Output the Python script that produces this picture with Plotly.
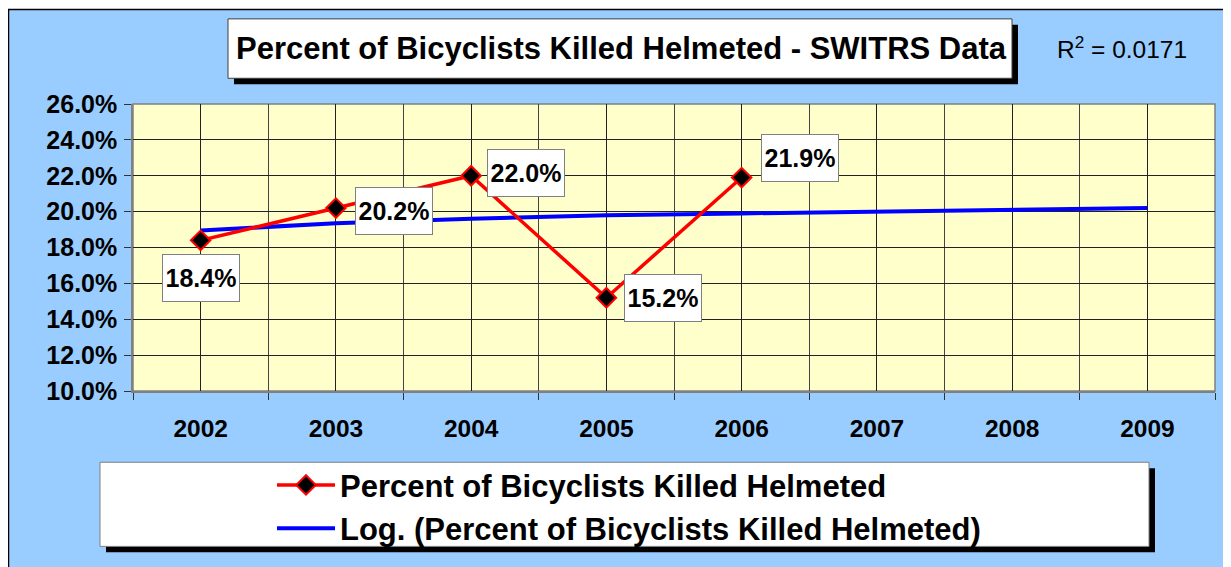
import plotly.graph_objects as go

# data
years = [2002, 2003, 2004, 2005, 2006, 2007, 2008, 2009]
data_years = [2002, 2003, 2004, 2005, 2006]
pct_helmeted = [18.4, 20.2, 22.0, 15.2, 21.9]
trend_pct = [18.95, 19.35, 19.6, 19.8, 19.9, 20.0, 20.1, 20.2]
series_name = "Percent of Bicyclists Killed Helmeted"
trend_name = "Log. (Percent of Bicyclists Killed Helmeted)"
title_text = "Percent of Bicyclists Killed Helmeted - SWITRS Data"
r2_text = "R<sup>2</sup> = 0.0171"

# label offsets (pixels) from each point
label_dx = [0, 58, 55, 57, 58]
label_dy = [-38, -3, 3, 0, 20]

# the page body adds an 8px margin, so the figure is a bit smaller
OFF = 8
W, H = 1231 - OFF, 567 - OFF
ML, MR, MT, MB = 125, 16, 96, 173
PW = W - ML - MR
PH = H - MT - MB


# screen pixel -> paper coordinate
def px(x):
    return (x - OFF - ML) / PW


def py(y):
    return (H - MB - (y - OFF)) / PH


FONT = "Liberation Sans, Arial, sans-serif"

fig = go.Figure()

fig.add_trace(go.Scatter(
    x=years, y=trend_pct, name=trend_name, mode="lines",
    line=dict(color="#0000FF", width=4), legendgroup="b", legendrank=2,
))
fig.add_trace(go.Scatter(
    x=data_years, y=pct_helmeted, name=series_name, mode="lines+markers",
    line=dict(color="#FF0000", width=3.5),
    marker=dict(symbol="diamond", size=15, color="black",
                line=dict(color="#FF0000", width=2)),
    legendgroup="a", legendrank=1,
))

shapes = [
    # outer chart area
    dict(type="rect", xref="paper", yref="paper", x0=px(8.5), x1=px(1245),
         y0=py(580), y1=py(8.5), fillcolor="#99CCFF",
         line=dict(color="black", width=1.5), layer="below"),
    # plot area
    dict(type="rect", xref="paper", yref="paper", x0=0, x1=1, y0=0, y1=1,
         fillcolor="#FFFFCC", line=dict(color="#808080", width=1.5), layer="below"),
    # title box + shadow
    dict(type="rect", xref="paper", yref="paper", x0=px(234), x1=px(1018),
         y0=py(84), y1=py(24), fillcolor="black", line=dict(width=0), layer="below"),
    dict(type="rect", xref="paper", yref="paper", x0=px(228), x1=px(1012),
         y0=py(78), y1=py(18), fillcolor="white",
         line=dict(color="#404040", width=1), layer="below"),
    # legend box + shadow
    dict(type="rect", xref="paper", yref="paper", x0=px(106), x1=px(1155),
         y0=py(557), y1=py(472), fillcolor="black", line=dict(width=0), layer="below"),
    dict(type="rect", xref="paper", yref="paper", x0=px(100), x1=px(1149),
         y0=py(551), y1=py(466), fillcolor="white",
         line=dict(color="#808080", width=1), layer="below"),
]

annotations = [
    dict(text="<b>" + title_text + "</b>", xref="paper", yref="paper",
         x=px(621), y=py(48), xanchor="center", yanchor="middle", showarrow=False,
         font=dict(family=FONT, size=31, color="black")),
    dict(text=r2_text, xref="paper", yref="paper", x=px(1122), y=py(47),
         xanchor="center", yanchor="middle", showarrow=False,
         font=dict(family=FONT, size=24.5, color="black")),
]
for yr, v, dx, dy in zip(data_years, pct_helmeted, label_dx, label_dy):
    annotations.append(dict(
        x=yr, y=v, xref="x", yref="y", text="<b>%.1f%%</b>" % v,
        xanchor="center", yanchor="middle",
        showarrow=False, xshift=dx, yshift=dy,
        bgcolor="white", bordercolor="#808080", borderwidth=1, borderpad=2,
        width=72, height=42,
        font=dict(family=FONT, size=25, color="black"),
    ))

fig.update_layout(
    width=W, height=H,
    margin=dict(l=ML, r=MR, t=MT, b=MB),
    paper_bgcolor="white",
    plot_bgcolor="rgba(0,0,0,0)",
    shapes=shapes,
    annotations=annotations,
    font=dict(family=FONT, color="black"),
    legend=dict(
        x=px(272), xanchor="left", y=py(511), yanchor="middle",
        bgcolor="rgba(0,0,0,0)", borderwidth=0,
        font=dict(family=FONT, size=31, color="black", weight="bold"),
        itemwidth=58, tracegroupgap=0,
    ),
    showlegend=True,
)

fig.update_xaxes(
    range=[2001.5, 2009.5], tickvals=years, ticktext=[str(y) for y in years],
    ticks="", showgrid=True, gridcolor="#222222", gridwidth=1,
    minor=dict(tick0=2001.5, dtick=1, ticks="outside", ticklen=7,
               tickcolor="#333333", showgrid=True, gridcolor="#444444", gridwidth=1),
    showline=True, linecolor="#808080", linewidth=1.5,
    tickfont=dict(family=FONT, size=24.5, color="black", weight="bold"),
    ticklabelstandoff=15, zeroline=False, fixedrange=True,
)
fig.update_yaxes(
    range=[10, 26], dtick=2, tick0=10, tickformat=".1f", ticksuffix="%",
    ticks="outside", ticklen=7, tickcolor="#333333",
    showgrid=True, gridcolor="#222222", gridwidth=1,
    showline=True, linecolor="#808080", linewidth=1.5,
    tickfont=dict(family=FONT, size=25, color="black", weight="bold"),
    ticklabelstandoff=2, zeroline=False, fixedrange=True,
)

fig.write_html("out.html")
